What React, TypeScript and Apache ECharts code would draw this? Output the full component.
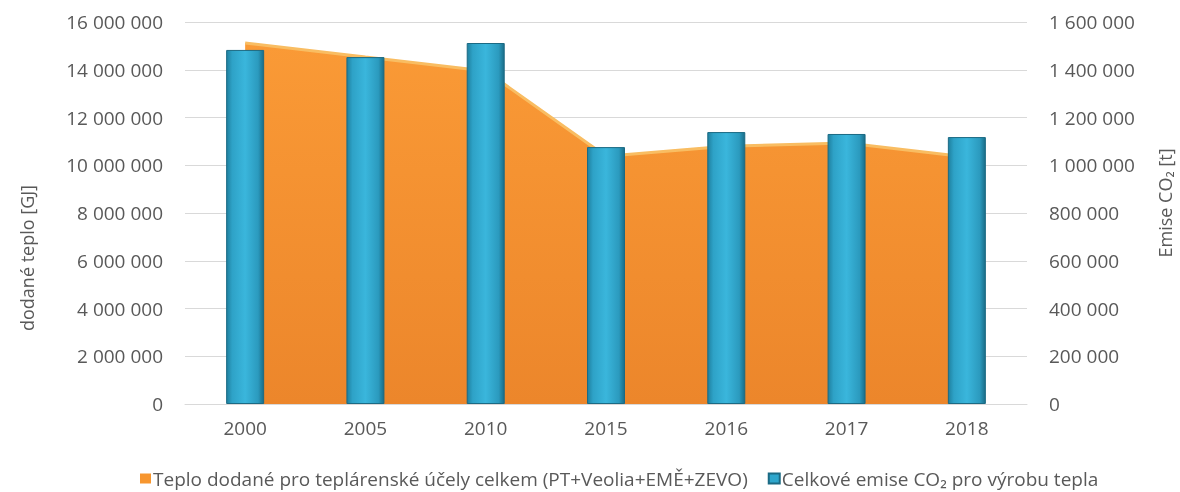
import React, { useEffect, useRef } from "react";
import * as echarts from "echarts";

const categories = ["2000", "2005", "2010", "2015", "2016", "2017", "2018"];
const heatDelivered = [15120000, 14530000, 13950000, 10380000, 10800000, 10930000, 10350000];
const co2Emissions = [1483000, 1453000, 1512000, 1076000, 1139000, 1131000, 1118000];
const heatName = "Teplo dodané pro teplárenské účely celkem (PT+Veolia+EMĚ+ZEVO)";
const co2Name = "Celkové emise CO₂ pro výrobu tepla";
const leftTitle = "dodané teplo [GJ]";
const rightTitle = "Emise CO₂ [t]";

const FONT = "'Open Sans', 'Noto Sans', sans-serif";
const TXT = "#595959";

const fmt = (v: number) => String(Math.round(v)).replace(/\B(?=(\d{3})+(?!\d))/g, " ");

export default function App() {
  const ref = useRef<HTMLDivElement>(null);
  useEffect(() => {
    if (!ref.current) return;
    const chart = echarts.init(ref.current, undefined, { renderer: "svg" });
    const barGrad = new echarts.graphic.LinearGradient(0, 0, 1, 0, [
      { offset: 0, color: "#1f809f" },
      { offset: 0.15, color: "#2ea2c7" },
      { offset: 0.5, color: "#3ab6dc" },
      { offset: 0.85, color: "#2b9abe" },
      { offset: 1, color: "#1a6d88" },
    ]);
    const areaGrad = new echarts.graphic.LinearGradient(0, 0, 0, 1, [
      { offset: 0, color: "#fa9a36" },
      { offset: 1, color: "#ec862b" },
    ]);
    chart.setOption({
      animation: false,
      textStyle: { fontFamily: FONT },
      grid: { left: 185, right: 153, top: 22, bottom: 88, containLabel: false },
      legend: {
        left: 135,
        top: 464,
        icon: "rect",
        itemWidth: 11,
        itemHeight: 10,
        itemGap: 20,
        textStyle: { color: TXT, fontSize: 19, fontFamily: FONT, padding: [0, 0, 0, -3] },
        data: [
          { name: heatName, itemStyle: { color: "#f7962f" } },
          { name: co2Name, itemStyle: { color: "#2ea6cc" } },
        ],
      },
      xAxis: {
        type: "category",
        data: categories,
        boundaryGap: true,
        axisLine: { show: true, lineStyle: { color: "#d9d9d9" } },
        axisTick: { show: false },
        axisLabel: { color: TXT, fontSize: 19, margin: 14, fontFamily: FONT },
      },
      yAxis: [
        {
          type: "value",
          min: 0,
          max: 16000000,
          interval: 2000000,
          position: "left",
          axisLine: { show: false },
          axisTick: { show: false },
          splitLine: { show: true, lineStyle: { color: "#d9d9d9" } },
          axisLabel: { color: TXT, fontSize: 19, margin: 22, fontFamily: FONT, formatter: fmt },
        },
        {
          type: "value",
          min: 0,
          max: 1600000,
          interval: 200000,
          position: "right",
          axisLine: { show: false },
          axisTick: { show: false },
          splitLine: { show: false },
          axisLabel: { color: TXT, fontSize: 19, margin: 22, fontFamily: FONT, formatter: fmt },
        },
      ],
      graphic: [
        {
          type: "text",
          x: 27,
          y: 258,
          rotation: Math.PI / 2,
          style: {
            text: leftTitle,
            fill: TXT,
            font: `18px ${FONT}`,
            align: "center",
            verticalAlign: "middle",
          },
        },
        {
          type: "text",
          x: 1165,
          y: 203,
          rotation: Math.PI / 2,
          style: {
            text: rightTitle,
            fill: TXT,
            font: `18px ${FONT}`,
            align: "center",
            verticalAlign: "middle",
          },
        },
      ],
      series: [
        {
          name: heatName,
          type: "line",
          yAxisIndex: 0,
          data: heatDelivered,
          symbol: "none",
          z: 2,
          lineStyle: { color: "#f9bd62", width: 3 },
          itemStyle: { color: "#f7962f" },
          areaStyle: { color: areaGrad, opacity: 1 },
        },
        {
          name: co2Name,
          type: "bar",
          yAxisIndex: 1,
          data: co2Emissions,
          barWidth: 38,
          z: 3,
          itemStyle: { color: barGrad, borderColor: "#1b6a84", borderWidth: 1 },
        },
      ],
    });
    return () => chart.dispose();
  }, []);
  return (
    <div
      ref={ref}
      style={{ position: "fixed", left: 0, top: 0, width: 1180, height: 492 }}
    />
  );
}
